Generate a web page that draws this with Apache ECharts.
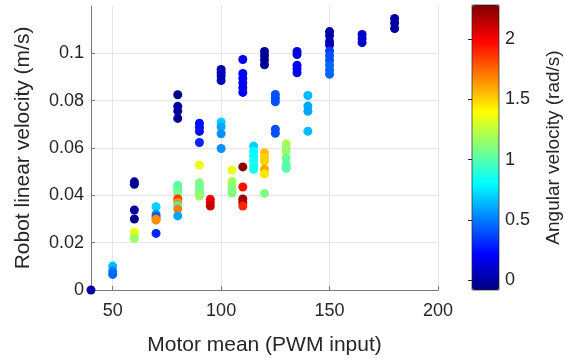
<!DOCTYPE html>
<html>
<head>
<meta charset="utf-8">
<script src="https://cdn.jsdelivr.net/npm/echarts@6/dist/echarts.min.js"></script>
<style>
  html, body { margin: 0; padding: 0; background: #fff; }
  #chart { width: 565px; height: 364px; }
</style>
</head>
<body>
<div id="chart"></div>
<script>
// Motor mean (PWM), robot linear velocity (m/s), angular velocity (rad/s)
let motorPwm = [
	40,
	50, 50, 50,
	60, 60, 60, 60, 60, 60, 60,
	70, 70, 70, 70, 70, 70,
	80, 80, 80, 80, 80, 80, 80, 80, 80, 80, 80, 80, 80,
	90, 90, 90, 90, 90, 90, 90, 90, 90, 90,
	95, 95, 95,
	100, 100, 100, 100, 100, 100, 100, 100,
	105, 105, 105, 105, 105,
	110, 110, 110, 110, 110, 110, 110, 110, 110, 110, 110,
	115, 115, 115, 115, 115, 115,
	120, 120, 120, 120, 120, 120, 120, 120, 120, 120,
	125, 125, 125, 125, 125,
	130, 130, 130, 130, 130, 130,
	135, 135, 135, 135, 135,
	140, 140, 140, 140,
	150, 150, 150, 150, 150, 150, 150, 150, 150, 150,
	165, 165, 165,
	180, 180, 180
];
let linearVel = [
	0,
	0.0101, 0.0080, 0.0066,
	0.0457, 0.0447, 0.0338, 0.0300, 0.0245, 0.0230, 0.0218,
	0.0352, 0.0320, 0.0310, 0.0300, 0.0295, 0.0239,
	0.0825, 0.0776, 0.0756, 0.0725, 0.0443, 0.0430, 0.0418, 0.0402, 0.0385, 0.0370, 0.0355, 0.0342, 0.0313,
	0.0705, 0.0688, 0.0670, 0.0623, 0.0528, 0.0453, 0.0440, 0.0425, 0.0410, 0.0397,
	0.0383, 0.0370, 0.0355,
	0.0932, 0.0918, 0.0904, 0.0885, 0.0710, 0.0690, 0.0660, 0.0598,
	0.0507, 0.0460, 0.0445, 0.0425, 0.0410,
	0.0974, 0.0915, 0.0895, 0.0875, 0.0855, 0.0835, 0.0520, 0.0435, 0.0385, 0.0370, 0.0355,
	0.0608, 0.0585, 0.0565, 0.0545, 0.0525, 0.0510,
	0.1008, 0.0990, 0.0972, 0.0952, 0.0580, 0.0560, 0.0545, 0.0510, 0.0490, 0.0408,
	0.0826, 0.0810, 0.0795, 0.0679, 0.0662,
	0.0618, 0.0600, 0.0585, 0.0556, 0.0530, 0.0514,
	0.1008, 0.0995, 0.0950, 0.0935, 0.0918,
	0.0822, 0.0777, 0.0755, 0.0671,
	0.1092, 0.1075, 0.1050, 0.1035, 0.1010, 0.0990, 0.0970, 0.0950, 0.0930, 0.0912,
	0.1080, 0.1063, 0.1045,
	0.1147, 0.1128, 0.1105
];
let angularVel = [
	0.0,
	0.65, 0.5, 0.45,
	-0.02, -0.02, -0.02, -0.05, 1.35, 1.3, 1.15,
	0.7, 0.55, 0.4, 1.7, 1.65, 0.3,
	-0.05, 0.0, 0.0, -0.05, 1.0, 1.0, 1.05, 1.1, 1.85, 1.65, 0.95, 1.7, 0.6,
	0.25, 0.25, 0.25, 0.3, 1.35, 1.1, 1.1, 1.05, 1.1, 1.15,
	2.0, 2.05, 2.1,
	0.0, 0.05, 0.05, 0.05, 0.7, 0.6, 0.55, 0.55,
	1.35, 1.2, 1.15, 1.1, 1.1,
	0.2, 0.2, 0.2, 0.2, 0.2, 0.2, 2.25, 1.95, 2.2, 2.2, 1.9,
	0.7, 0.8, 0.8, 0.85, 0.85, 0.85,
	-0.03, -0.03, -0.03, -0.03, 1.55, 1.5, 1.5, 1.6, 1.45, 1.1,
	0.4, 0.4, 0.4, 0.4, 0.4,
	1.2, 1.15, 1.15, 1.05, 1.0, 1.0,
	0.15, 0.15, 0.2, 0.2, 0.2,
	0.65, 0.6, 0.6, 0.65,
	0.0, 0.0, 0.05, 0.05, 0.35, 0.4, 0.4, 0.45, 0.45, 0.45,
	0.1, 0.1, 0.1,
	0.0, 0.0, 0.0
];

let xTicks = [50, 100, 150, 200];
let yTicks = [0, 0.02, 0.04, 0.06, 0.08, 0.1];
let cbarTicks = [0, 0.5, 1, 1.5, 2];
let cbarMin = -0.08;
let cbarMax = 2.28;

// jet colormap
let jet = ['#000080', '#0000FF', '#0080FF', '#00FFFF', '#80FF80', '#FFFF00', '#FF8000', '#FF0000', '#800000'];

let font = 'Liberation Sans, Arial, Helvetica, sans-serif';
let textColor = '#262626';

let points = [];
for (let i = 0; i < motorPwm.length; i++) {
	points.push([motorPwm[i], linearVel[i], angularVel[i]]);
}

let chart = echarts.init(document.getElementById('chart'), null, { renderer: 'canvas' });

chart.setOption({
	animation: false,
	backgroundColor: '#fff',
	textStyle: { fontFamily: font },
	grid: [
		{ left: 91, right: 127, top: 6, bottom: 74 },
		// colorbar frame
		{ left: 472, top: 5, width: 27, height: 285, show: true, borderColor: '#262626', borderWidth: 0.7, backgroundColor: 'transparent', z: 10 }
	],
	xAxis: [
		{
			type: 'value', gridIndex: 0, min: 40, max: 200,
			name: 'Motor mean (PWM input)', nameLocation: 'middle', nameGap: 45,
			nameTextStyle: { fontSize: 21, color: textColor, fontFamily: font },
			axisLine: { show: true, onZero: false, lineStyle: { color: '#7a7a7a', width: 1 } },
			axisTick: { show: true, inside: true, length: 4, customValues: xTicks, lineStyle: { color: '#7a7a7a' } },
			axisLabel: { customValues: xTicks, fontSize: 18, color: textColor, margin: 12, fontFamily: font },
			splitLine: { show: true, lineStyle: { color: '#e6e6e6', width: 1 } }
		},
		{ type: 'value', gridIndex: 1, min: 0, max: 1, show: false }
	],
	yAxis: [
		{
			type: 'value', gridIndex: 0, min: 0, max: 0.12,
			name: 'Robot linear velocity (m/s)', nameLocation: 'middle', nameGap: 57, nameRotate: 90,
			nameTextStyle: { fontSize: 21, color: textColor, fontFamily: font },
			axisLine: { show: true, onZero: false, lineStyle: { color: '#7a7a7a', width: 1 } },
			axisTick: { show: true, inside: true, length: 4, customValues: yTicks, lineStyle: { color: '#7a7a7a' } },
			axisLabel: { customValues: yTicks, fontSize: 18, color: textColor, margin: 7, fontFamily: font },
			splitLine: { show: true, lineStyle: { color: '#e6e6e6', width: 1 } }
		},
		{
			type: 'value', gridIndex: 1, position: 'right', min: cbarMin, max: cbarMax,
			name: 'Angular velocity (rad/s)', nameLocation: 'middle', nameGap: 45, nameRotate: 90,
			nameTextStyle: { fontSize: 19, color: textColor, fontFamily: font },
			axisLine: { show: false },
			axisTick: { show: true, inside: true, length: 4, customValues: cbarTicks, lineStyle: { color: '#262626' } },
			axisLabel: { customValues: cbarTicks, fontSize: 18, color: textColor, margin: 6, fontFamily: font },
			splitLine: { show: false }
		}
	],
	visualMap: {
		type: 'continuous',
		seriesIndex: 0,
		dimension: 2,
		min: cbarMin,
		max: cbarMax,
		calculable: false,
		hoverLink: false,
		left: 472,
		top: 5,
		padding: 0,
		itemWidth: 27,
		itemHeight: 285,
		inRange: { color: jet }
	},
	series: [{
		type: 'scatter',
		xAxisIndex: 0,
		yAxisIndex: 0,
		symbol: 'circle',
		symbolSize: 9,
		data: points,
		itemStyle: { opacity: 1 }
	}]
});
</script>
</body>
</html>
